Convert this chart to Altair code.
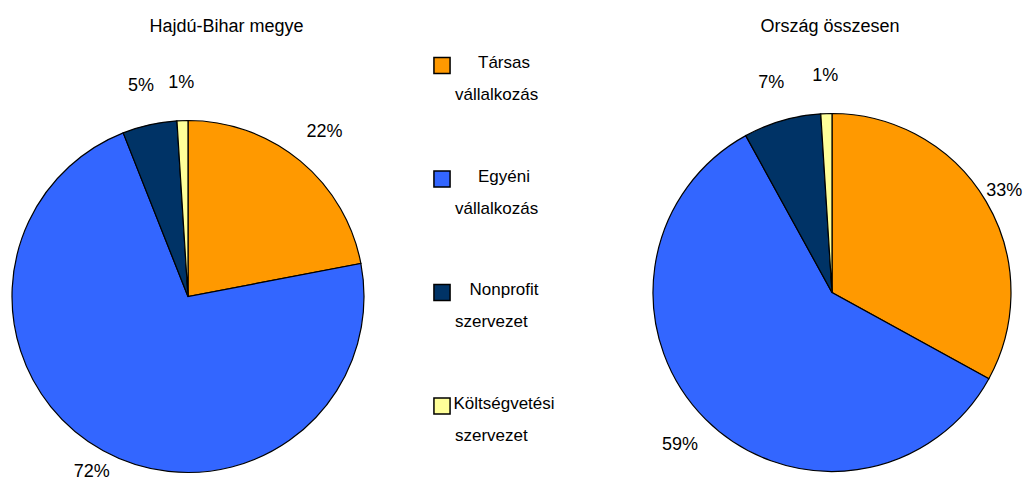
import altair as alt
import pandas as pd

categories = ["Társas vállalkozás", "Egyéni vállalkozás", "Nonprofit szervezet", "Költségvetési szervezet"]
colors = ["#FF9900", "#3366FF", "#003366", "#FFFF99"]
hb_values = [22, 72, 5, 1]
orszag_values = [33, 59, 7, 1]
legend_line1 = ["Társas", "Egyéni", "Nonprofit", "Költségvetési"]
legend_line2 = ["vállalkozás", "vállalkozás", "szervezet", "szervezet"]
titles = ["Hajdú-Bihar megye", "Ország összesen"]

FONT = "Liberation Sans"

color_scale = alt.Scale(domain=categories, range=colors)


def pie_df(values):
    return pd.DataFrame({
        "cat": categories,
        "idx": list(range(len(categories))),
        "val": values,
        "label": [f"{v}%" for v in values],
    })


def pie(values, title, cx, cy, r, label_radii, title_x):
    df = pie_df(values)
    base = alt.Chart(df).encode(
        theta=alt.Theta("val:Q", stack=True),
        order=alt.Order("idx:Q"),
    )
    arcs = base.mark_arc(radius=r, stroke="black", strokeWidth=1.2).encode(
        color=alt.Color("cat:N", scale=color_scale, legend=None),
        x=alt.value(cx),
        y=alt.value(cy),
    )
    out = [arcs]
    for i, lr in enumerate(label_radii):
        out.append(
            base.mark_text(font=FONT, fontSize=18, color="black", radius=lr).encode(
                text="label:N",
                x=alt.value(cx),
                y=alt.value(cy),
                opacity=alt.condition(f"datum.idx == {i}", alt.value(1), alt.value(0)),
            )
        )
    ttl = alt.Chart(pd.DataFrame({"t": [title]})).mark_text(
        font=FONT, fontSize=18, color="black", baseline="alphabetic"
    ).encode(text="t:N", x=alt.value(title_x), y=alt.value(24))
    out.append(ttl)
    return out


leg_df = pd.DataFrame({"cat": categories, "l1": legend_line1, "l2": legend_line2})
leg_y = alt.Y("cat:N", sort=categories, scale=alt.Scale(type="point", range=[57.5, 398], padding=0), axis=None)
leg_base = alt.Chart(leg_df).encode(y=leg_y)
leg_sq = leg_base.mark_square(size=260, stroke="black", strokeWidth=1.5, opacity=1).encode(
    x=alt.value(434),
    color=alt.Color("cat:N", scale=color_scale, legend=None),
)
leg_t1 = leg_base.mark_text(font=FONT, fontSize=17, align="center", baseline="alphabetic", dy=2.5).encode(
    x=alt.value(496), text="l1:N"
)
leg_t2 = leg_base.mark_text(font=FONT, fontSize=17, align="left", baseline="alphabetic", dy=34.5).encode(
    x=alt.value(447), text="l2:N"
)

layers = (
    pie(hb_values, titles[0], 180, 288.5, 176, [214, 200, 216, 214], 218.5)
    + pie(orszag_values, titles[1], 824, 284.5, 179, [200, 215, 218, 217], 822)
    + [leg_sq, leg_t1, leg_t2]
)

chart = alt.layer(*layers).properties(
    width=1016, height=476, padding=0, background="white",
    autosize=alt.AutoSizeParams(type="none"),
).configure_view(strokeWidth=0, stroke="transparent")

chart.save("out.html", embed_options={"renderer": "svg", "actions": False})
